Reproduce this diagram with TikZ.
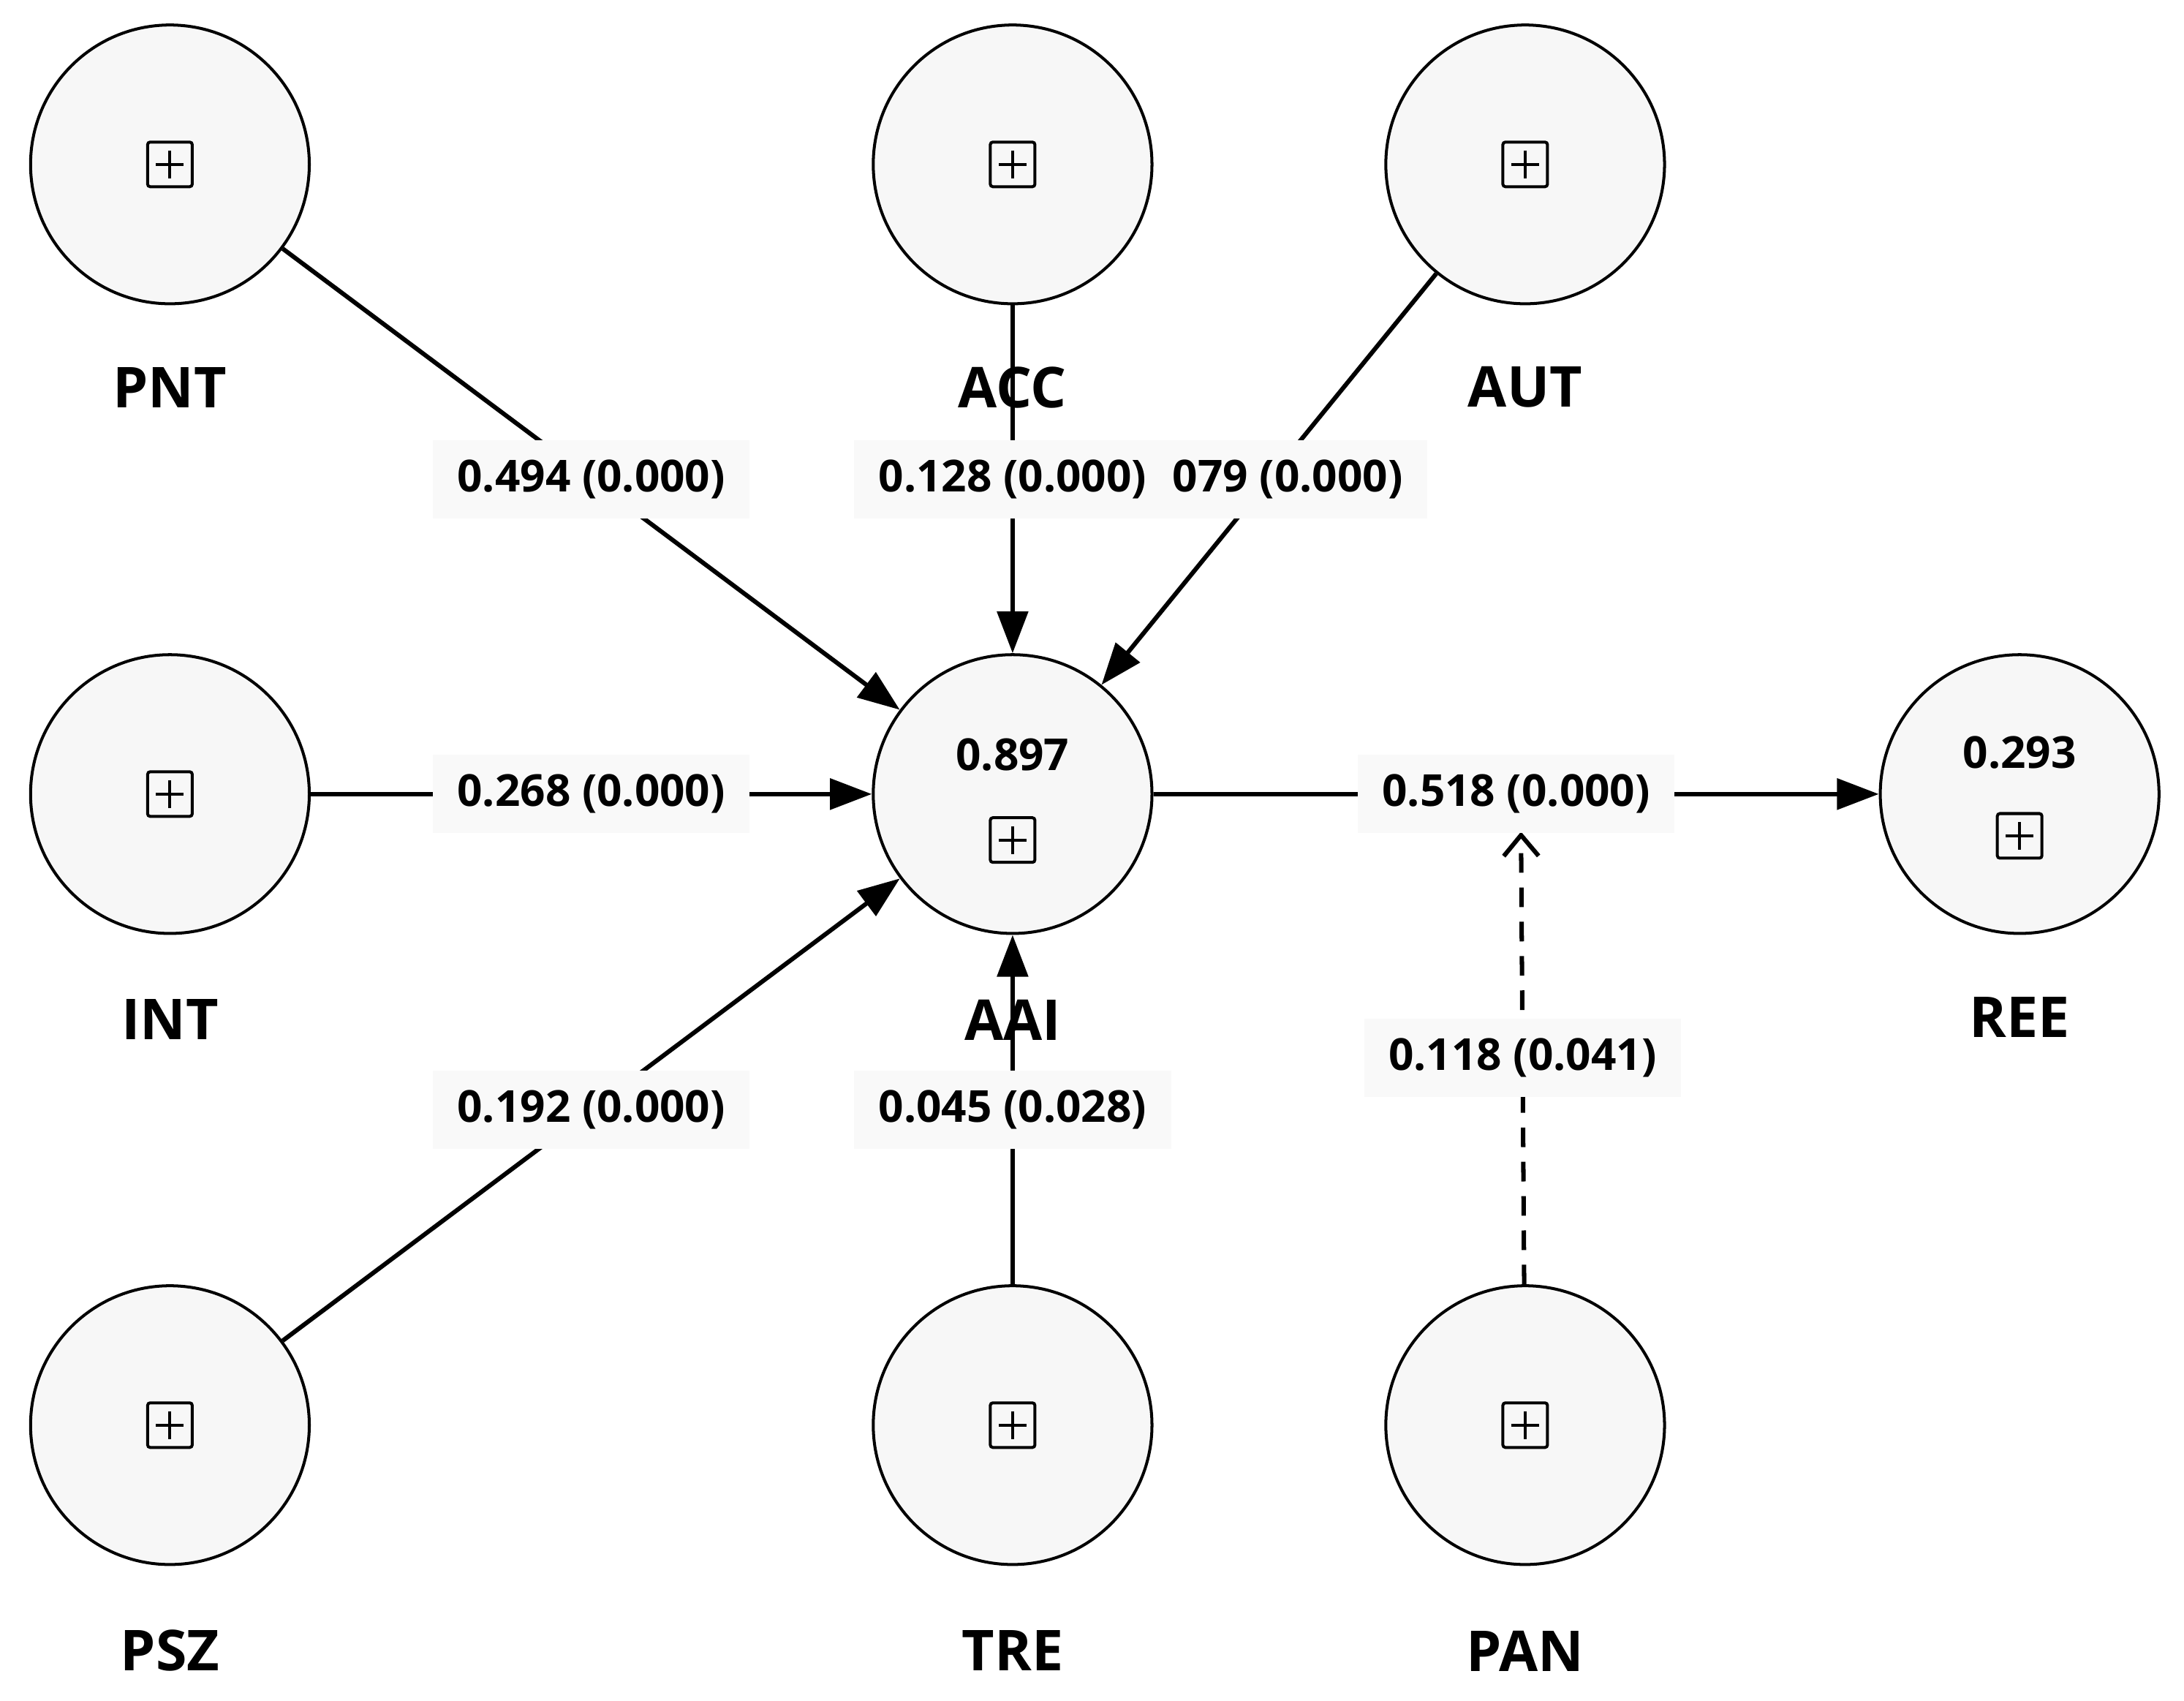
\documentclass[tikz,border=0pt]{standalone}
\usepackage{fontspec}
\setmainfont{Open Sans}
\usetikzlibrary{arrows.meta}
\begin{document}
\begin{tikzpicture}[x=0.01cm,y=-0.01cm,
  lv/.style={circle,draw,line width=0.6pt,fill=gray!6,minimum size=2cm,inner sep=0pt},
  nm/.style={font=\fontsize{11.5}{13}\selectfont\bfseries},
  el/.style={fill=gray!5,inner xsep=5pt,inner ysep=4pt,font=\fontsize{9}{11}\selectfont\bfseries},
  r2/.style={font=\fontsize{9}{11}\selectfont\bfseries},
  ar/.style={line width=0.9pt,-{Triangle[length=0.3cm,width=0.22cm]}},
  da/.style={line width=0.9pt,dashed,dash pattern=on 4pt off 3pt,-{Straight Barb[length=0.15cm,width=0.25cm]}}]
\useasboundingbox (0,0) rectangle (1568,1221);
\newcommand\pbx[2]{\draw[line width=0.6pt,rounded corners=0.5pt] (#1-16,#2-16) rectangle (#1+16,#2+16);
  \draw[line width=0.6pt] (#1-10,#2) -- (#1+10,#2) (#1,#2-10) -- (#1,#2+10);}
\node[lv] (PNT) at (122,118) {}; \pbx{122}{118}
\node[lv] (ACC) at (727,118) {}; \pbx{727}{118}
\node[lv] (AUT) at (1095,118) {}; \pbx{1095}{118}
\node[lv] (INT) at (122,570) {}; \pbx{122}{570}
\node[lv] (AAI) at (727,570) {}; \pbx{727}{603}
\node[lv] (REE) at (1450,570) {}; \pbx{1450}{600}
\node[lv] (PSZ) at (122,1023) {}; \pbx{122}{1023}
\node[lv] (TRE) at (727,1023) {}; \pbx{727}{1023}
\node[lv] (PAN) at (1095,1023) {}; \pbx{1095}{1023}
\node[r2] (aaiv) at (727,542) {0.897};
\node[r2] (reev) at (1450,540) {0.293};
\node[nm] (lPNT) at (122,278) {PNT};
\node[nm] (lACC) at (727,278) {ACC};
\node[nm] (lAUT) at (1095,278) {AUT};
\node[nm] (lINT) at (122,732) {INT};
\node[nm] (lAAI) at (727,732) {AAI};
\node[nm] (lREE) at (1450,730) {REE};
\node[nm] (lPSZ) at (122,1185) {PSZ};
\node[nm] (lTRE) at (727,1185) {TRE};
\node[nm] (lPAN) at (1095,1185) {PAN};
\draw[ar] (PNT) -- node[el] {0.494 (0.000)} (AAI);
\draw[ar] (AUT) -- node[el] {0.079 (0.000)} (AAI);
\draw[ar] (ACC) -- node[el] {0.128 (0.000)} (AAI);
\draw[ar] (INT) -- node[el] {0.268 (0.000)} (AAI);
\draw[ar] (PSZ) -- node[el] {0.192 (0.000)} (AAI);
\draw[ar] (TRE) -- node[el,pos=0.5] {0.045 (0.028)} (AAI);
\coordinate (m) at (1092,597);
\draw[da] (PAN) -- node[el] {0.118 (0.041)} (m);
\draw[ar] (AAI) -- node[el] {0.518 (0.000)} (REE);
\end{tikzpicture}
\end{document}
